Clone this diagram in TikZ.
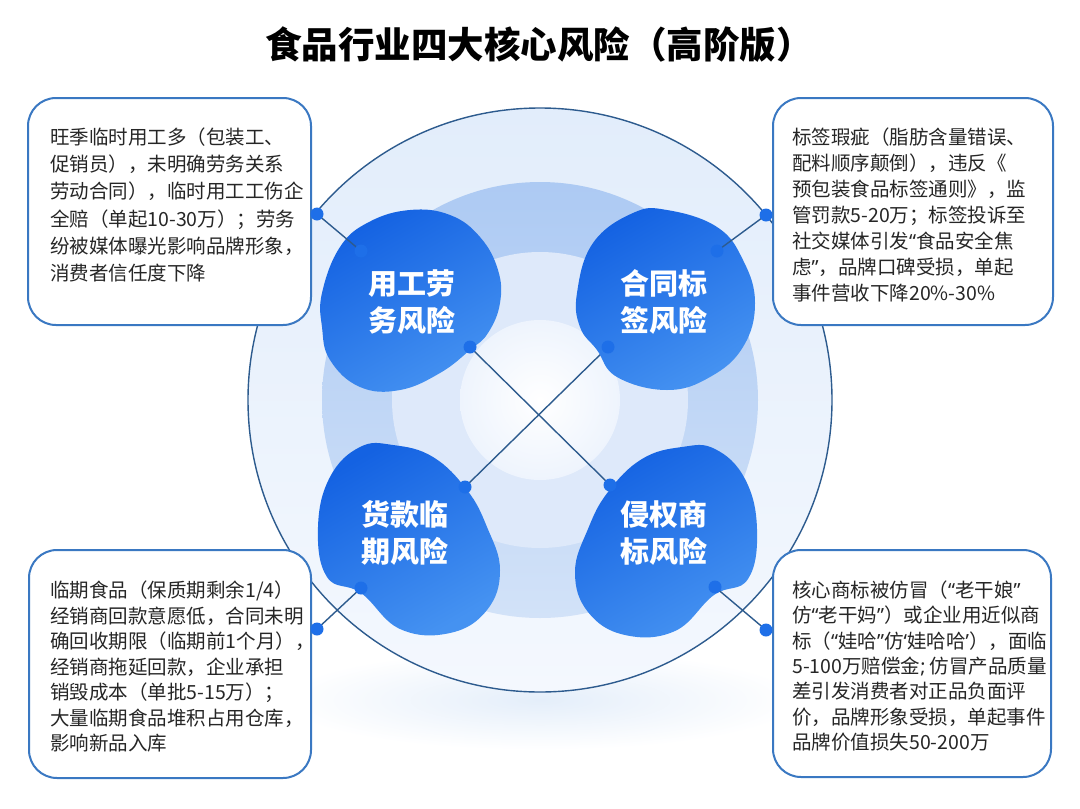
\documentclass[tikz,border=0pt]{standalone}
\usepackage{fontspec}
\setmainfont{Noto Sans CJK SC}
\newfontfamily\latq{Noto Sans}
\newcommand{\qL}{{\latq “}}
\newcommand{\qR}{{\latq ”}}
\newcommand{\sqL}{{\latq ‘}}
\newcommand{\sqR}{{\latq ’}}
\definecolor{boxline}{HTML}{3A78C2}
\definecolor{conn}{HTML}{2D5B8E}
\definecolor{dotc}{HTML}{1E6FE8}
\definecolor{circtop}{HTML}{E2EDFB}
\definecolor{circbot}{HTML}{F4F8FE}
\definecolor{ringtop}{HTML}{ADCAF3}
\definecolor{ringbot}{HTML}{D2E2F8}
\definecolor{palec}{HTML}{DEE9FA}
\definecolor{centc}{HTML}{EEF4FD}
\definecolor{shadowc}{HTML}{E4EEFA}
\definecolor{blobA}{HTML}{1462E2}
\definecolor{blobB}{HTML}{4592F1}
\definecolor{txt}{HTML}{262626}
\begin{document}
\begin{tikzpicture}[x=1pt,y=-1pt,
  riskbox/.style={draw=boxline, line width=2pt, fill=white, rounded corners=28pt, inner sep=0pt},
  boxtext/.style={anchor=base west, align=left, inner sep=0pt, text=txt},
  blobtext/.style={align=center, text=white, inner sep=0pt, font=\bfseries\fontsize{29}{37}\selectfont},
  blobfill/.style={left color=blobA, right color=blobB, shading angle=30},
  conline/.style={draw=conn, line width=1.4pt},
  dotnode/.style={circle, fill=dotc, inner sep=0pt, minimum size=13pt}]
\useasboundingbox (0,0) rectangle (1080,809);
\fill[white] (0,0) rectangle (1080,809);
% soft shadow under the circle
\shade[inner color=shadowc, outer color=white] (540,700) ellipse [x radius=260, y radius=50];
% outer circle
\shade[top color=circtop, bottom color=circbot] (540,400) circle [radius=292];
\draw[conn, line width=1.4pt] (540,400) circle [radius=292];
% rings
\shade[top color=ringtop, bottom color=ringbot] (540,400) circle [radius=218];
\fill[palec] (540,400) circle [radius=148];
\shade[inner color=white, outer color=centc] (540,400) circle [radius=80];
% title
\node[font=\bfseries\fontsize{36.5}{40}\selectfont, inner sep=0pt] (title) at (539,45) {食品行业四大核心风险（高阶版）};
% dot positions
\coordinate (tlbd) at (317,214);
\coordinate (tlod) at (361,251);
\coordinate (tlid) at (470,347);
\coordinate (trbd) at (766,215);
\coordinate (trod) at (717,251);
\coordinate (trid) at (608,347);
\coordinate (blbd) at (317,629);
\coordinate (blod) at (361,588);
\coordinate (blid) at (465,487);
\coordinate (brbd) at (766,630);
\coordinate (brod) at (715,587);
\coordinate (brid) at (610,485);
% crossing lines
\draw[conline] (tlid) -- (brid);
\draw[conline] (trid) -- (blid);
% blobs
\begin{scope}[shift={(411,300)}]
\shade[blobfill] plot[smooth cycle, tension=0.7] coordinates {(-89,-7) (-71,-53) (-42,-78) (-1,-90) (39,-85) (69,-63) (87,-30) (89,3) (77,33) (59,50) (29,73) (-11,90) (-51,87) (-81,60) (-89,27)};
\end{scope}
\begin{scope}[shift={(666,300)}]
\shade[blobfill] plot[smooth cycle, tension=0.7] coordinates {(-89,-7) (-73,-57) (-33,-87) (1,-90) (51,-73) (77,-40) (89,3) (77,47) (44,77) (1,90) (-49,77) (-69,50) (-86,27)};
\end{scope}
\begin{scope}[shift={(409,539)}]
\shade[blobfill] plot[smooth cycle, tension=0.7] coordinates {(-16,-94) (24,-82) (58,-49) (78,-12) (91,31) (78,71) (41,94) (-9,90) (-48,54) (-82,38) (-91,-12) (-79,-62) (-49,-92)};
\end{scope}
\begin{scope}[shift={(666,541)}]
\shade[blobfill] plot[smooth cycle, tension=0.7] coordinates {(16,-94) (-24,-82) (-58,-49) (-78,-12) (-91,31) (-78,71) (-41,94) (9,90) (48,54) (82,38) (91,-12) (79,-62) (49,-92)};
\end{scope}
\node[blobtext] (tlrisk) at (412,302) {用工劳\\务风险};
\node[blobtext] (trrisk) at (664,302) {合同标\\签风险};
\node[blobtext] (blrisk) at (405,533) {货款临\\期风险};
\node[blobtext] (brrisk) at (664,533) {侵权商\\标风险};
% boxes
\node[riskbox, minimum width=283pt, minimum height=227pt] (tlbox) at (169.5,211.5) {};
\node[riskbox, minimum width=280pt, minimum height=227pt] (trbox) at (913,211.5) {};
\node[riskbox, minimum width=282pt, minimum height=228pt] (blbox) at (170,664) {};
\node[riskbox, minimum width=278pt, minimum height=227pt] (brbox) at (912,663.5) {};
% box texts (anchor = baseline of the last line)
\node[boxtext, font=\fontsize{19.5}{27.2}\selectfont] (tltext) at (50,280.5) {旺季临时用工多（包装工、\\促销员），未明确劳务关系\\劳动合同），临时用工工伤企\\全赔（单起10-30万）；劳务\\纷被媒体曝光影响品牌形象，\\消费者信任度下降};
\node[boxtext, font=\fontsize{19.5}{26}\selectfont] (trtext) at (792,300.5) {标签瑕疵（脂肪含量错误、\\配料顺序颠倒），违反《\\预包装食品标签通则》，监\\管罚款5-20万；标签投诉至\\社交媒体引发\qL 食品安全焦\\虑\qR，品牌口碑受损，单起\\事件营收下降20\%-30\%};
\node[boxtext, font=\fontsize{19.5}{25.5}\selectfont] (bltext) at (50,750.5) {临期食品（保质期剩余1/4）\\经销商回款意愿低，合同未明\\确回收期限（临期前1个月），\\经销商拖延回款，企业承担\\销毁成本（单批5-15万）；\\大量临期食品堆积占用仓库，\\影响新品入库};
\node[boxtext, font=\fontsize{19.5}{25.3}\selectfont] (brtext) at (792,749.3) {核心商标被仿冒（\qL 老干娘\qR\\仿\qL 老干妈\qR）或企业用近似商\\标（\qL 娃哈\qR 仿\sqL 娃哈哈\sqR），面临\\5-100万赔偿金{\latq ;} 仿冒产品质量\\差引发消费者对正品负面评\\价，品牌形象受损，单起事件\\品牌价值损失50-200万};
% connectors box -> blob
\draw[conline] (tlbd) -- (tlod);
\draw[conline] (trbd) -- (trod);
\draw[conline] (blbd) -- (blod);
\draw[conline] (brbd) -- (brod);
% dots
\foreach \d in {tlbd,tlod,tlid,trbd,trod,trid,blbd,blod,blid,brbd,brod,brid}
  \node[dotnode] (n\d) at (\d) {};
\end{tikzpicture}
\end{document}
